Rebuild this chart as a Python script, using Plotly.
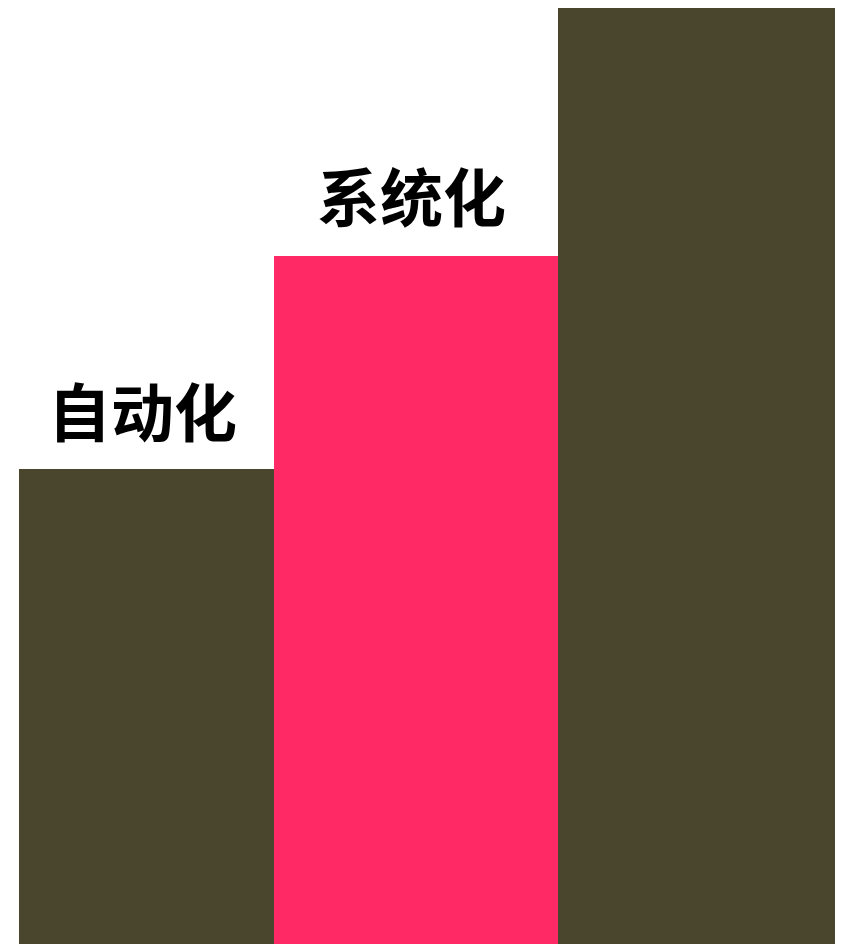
import plotly.graph_objects as go

# Data
categories = ["自动化", "系统化", "智能化"]
values = [2.0, 2.882, 3.921]
labels = ["自动化", "系统化", ""]
colors = ["#4a452d", "#ff2a65", "#4a452d"]

# Layout geometry (style, not data)
centers = [0.4877, 1.4366, 2.4243]
widths = [0.898, 1.0, 0.975]
label_yshift = [13, 15, 0]

fig = go.Figure(
    go.Bar(
        x=centers,
        y=values,
        width=widths,
        marker=dict(color=colors, line=dict(width=0)),
        hoverinfo="skip",
    )
)

for xc, v, t, ys in zip(centers, values, labels, label_yshift):
    if t:
        fig.add_annotation(
            x=xc, y=v, text=t, showarrow=False,
            xanchor="center", yanchor="bottom", xshift=-4, yshift=ys,
            font=dict(family="Noto Sans CJK SC", size=63, color="#000000", weight="bold"),
        )

fig.update_layout(
    width=844,
    height=944,
    margin=dict(l=0, r=0, t=0, b=0),
    paper_bgcolor="white",
    plot_bgcolor="white",
    showlegend=False,
    bargap=0,
    xaxis=dict(range=[0, 2.972], visible=False, fixedrange=True),
    yaxis=dict(range=[0, 3.909], visible=False, fixedrange=True),
)

fig.write_html("out.html")
